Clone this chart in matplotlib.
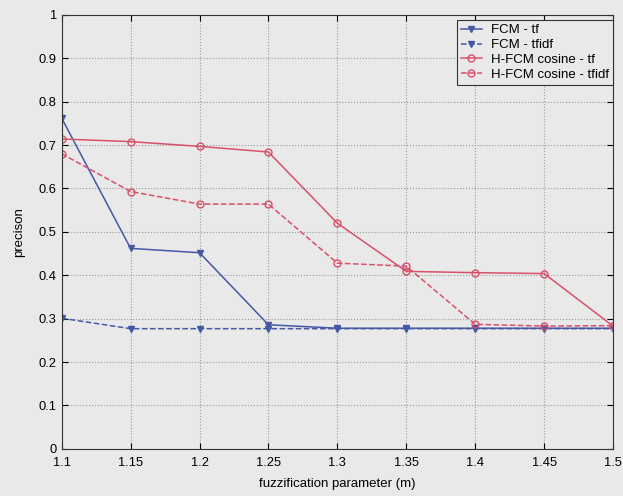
import numpy as np
import matplotlib
matplotlib.use("Agg")
import matplotlib.pyplot as plt

# Veriler
m_values = [1.1, 1.15, 1.2, 1.25, 1.3, 1.35, 1.4, 1.45, 1.5]
m_labels = ["1.1", "1.15", "1.2", "1.25", "1.3", "1.35", "1.4", "1.45", "1.5"]
fcm_tf = [0.762, 0.462, 0.452, 0.286, 0.278, 0.278, 0.278, 0.278, 0.278]
fcm_tfidf = [0.301, 0.277, 0.277, 0.277, 0.277, 0.277, 0.277, 0.277, 0.277]
hfcm_tf = [0.714, 0.708, 0.697, 0.684, 0.520, 0.409, 0.406, 0.404, 0.283]
hfcm_tfidf = [0.680, 0.593, 0.564, 0.564, 0.428, 0.421, 0.287, 0.283, 0.284]
y_ticks = [0, 0.1, 0.2, 0.3, 0.4, 0.5, 0.6, 0.7, 0.8, 0.9, 1]
y_labels = ["0", "0.1", "0.2", "0.3", "0.4", "0.5", "0.6", "0.7", "0.8", "0.9", "1"]

BG = "#e9e9e9"
BLUE = "#4558a5"
RED = "#d9506a"

plt.rcParams["font.family"] = ["Liberation Sans", "DejaVu Sans"]

fig = plt.figure(figsize=(6.23, 4.96), dpi=100, facecolor=BG)
ax = fig.add_axes([0.099, 0.095, 0.885, 0.875], facecolor=BG)

ax.plot(m_values, fcm_tf, "-", color=BLUE, marker="v", markersize=5,
        linewidth=1.1, markerfacecolor=BLUE, label="FCM - tf")
ax.plot(m_values, fcm_tfidf, "--", color=BLUE, marker="v", markersize=5,
        linewidth=1.1, markerfacecolor=BLUE, label="FCM - tfidf")
ax.plot(m_values, hfcm_tf, "-", color=RED, marker="o", markersize=5,
        linewidth=1.1, markerfacecolor="none", label="H-FCM cosine - tf")
ax.plot(m_values, hfcm_tfidf, "--", color=RED, marker="o", markersize=5,
        linewidth=1.1, markerfacecolor="none", label="H-FCM cosine - tfidf")

ax.set_xlim(1.1, 1.5)
ax.set_ylim(0, 1)
ax.set_xticks(m_values)
ax.set_xticklabels(m_labels)
ax.set_yticks(y_ticks)
ax.set_yticklabels(y_labels)
ax.tick_params(direction="in", top=True, right=True, labelsize=9.3, length=4)
ax.tick_params(axis="x", pad=6)
ax.grid(True, linestyle=":", color="#9a9a9a", linewidth=0.8)
for s in ax.spines.values():
    s.set_color("#333333")
    s.set_linewidth(0.8)

ax.set_xlabel("fuzzification parameter (m)", fontsize=9.5, labelpad=6)
ax.set_ylabel("precison", fontsize=9.5, labelpad=10)

leg = ax.legend(loc="upper right", bbox_to_anchor=(1.0, 0.988), fontsize=9.5,
                fancybox=False, framealpha=1, edgecolor="#333333", facecolor=BG,
                handlelength=1.6, handletextpad=0.7, borderpad=0.3,
                labelspacing=0.2, borderaxespad=0)
leg.get_frame().set_linewidth(0.8)

plt.savefig("out.png", dpi=100, facecolor=BG)
